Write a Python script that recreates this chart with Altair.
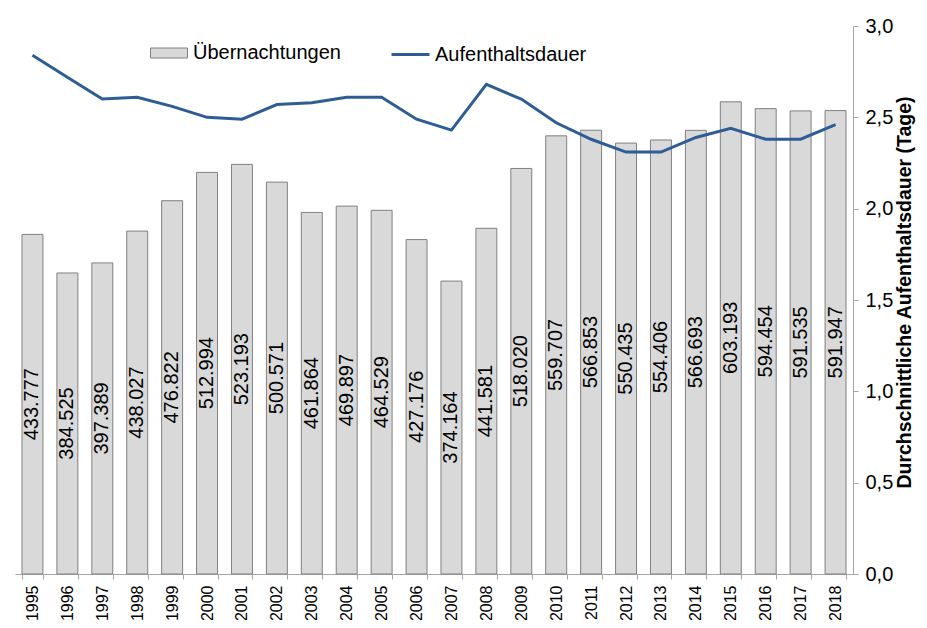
import altair as alt
import pandas as pd

jahre = ["1995", "1996", "1997", "1998", "1999", "2000", "2001", "2002", "2003",
         "2004", "2005", "2006", "2007", "2008", "2009", "2010", "2011", "2012",
         "2013", "2014", "2015", "2016", "2017", "2018"]
uebernachtungen = [433777, 384525, 397389, 438027, 476822, 512994, 523193, 500571,
                   461864, 469897, 464529, 427176, 374164, 441581, 518020, 559707,
                   566853, 550435, 554406, 566693, 603193, 594454, 591535, 591947]
aufenthaltsdauer = [2.84, 2.72, 2.60, 2.61, 2.56, 2.50, 2.49, 2.57, 2.58, 2.61, 2.61,
                    2.49, 2.43, 2.68, 2.60, 2.47, 2.38, 2.31, 2.31, 2.39, 2.44, 2.38,
                    2.38, 2.46]
links_ticks = [0, 100000, 200000, 300000, 400000, 500000, 600000, 700000]
rechts_ticks = [0.0, 0.5, 1.0, 1.5, 2.0, 2.5, 3.0]

FONT = "Liberation Sans"
GRAU = "#a6a6a6"

df = pd.DataFrame({
    "jahr": jahre,
    "naechte": uebernachtungen,
    "dauer": aufenthaltsdauer,
    "label": [f"{v:,}".replace(",", ".") for v in uebernachtungen],
    "s1": ["Übernachtungen"] * len(jahre),
    "s2": ["Aufenthaltsdauer"] * len(jahre),
})

x = alt.X("jahr:N", sort=jahre, title=None,
          scale=alt.Scale(paddingInner=0.4, paddingOuter=0.2),
          axis=alt.Axis(labelAngle=270, tickBand="extent", tickSize=5, labelPadding=6,
                        labelFontSize=16, labelFont=FONT, labelColor="black",
                        domainColor=GRAU, tickColor=GRAU))

yl_scale = alt.Scale(domain=[0, 700000], nice=False)

bars = alt.Chart(df).mark_bar(stroke="#808080", strokeWidth=1).encode(
    x=x,
    y=alt.Y("naechte:Q", scale=yl_scale, title=None,
            axis=alt.Axis(orient="left", values=links_ticks, labels=False, tickSize=5,
                          grid=False, domainColor=GRAU, tickColor=GRAU)),
    fill=alt.Fill("s1:N", scale=alt.Scale(domain=["Übernachtungen"], range=["#d9d9d9"]),
                  legend=alt.Legend(title=None, orient="none", legendX=135, legendY=8,
                                    symbolType="M-1,-0.27H1V0.27H-1Z", symbolSize=1369,
                                    symbolStrokeColor="#808080", symbolStrokeWidth=1,
                                    labelFont=FONT, labelFontSize=20, labelColor="black",
                                    labelOffset=5, padding=0)),
)

texts = alt.Chart(df).transform_calculate(half="datum.naechte / 2").mark_text(
    angle=270, align="center", baseline="middle", font=FONT, fontSize=20, color="black"
).encode(
    x=alt.X("jahr:N", sort=jahre),
    y=alt.Y("half:Q", scale=yl_scale, axis=None),
    text="label:N",
)

line = alt.Chart(df).mark_line(strokeWidth=3).encode(
    x=alt.X("jahr:N", sort=jahre),
    y=alt.Y("dauer:Q", scale=alt.Scale(domain=[0, 3], nice=False),
            title="Durchschnittliche Aufenthaltsdauer (Tage)",
            axis=alt.Axis(orient="right", values=rechts_ticks, format=".1f",
                          labelExpr="replace(datum.label, '.', ',')",
                          tickSize=5, labelPadding=7, grid=False,
                          labelFont=FONT, labelFontSize=20, labelColor="black",
                          domainColor=GRAU, tickColor=GRAU,
                          titleFont=FONT, titleFontSize=19.5, titleFontWeight="bold",
                          titleColor="black", titleAngle=270, titleBaseline="top",
                          titlePadding=3, titleY=266)),
    stroke=alt.Stroke("s2:N", scale=alt.Scale(domain=["Aufenthaltsdauer"], range=["#2e5d96"]),
                      legend=alt.Legend(title=None, orient="none", legendX=375, legendY=8,
                                        symbolType="stroke", symbolSize=1444,
                                        symbolStrokeWidth=3,
                                        labelFont=FONT, labelFontSize=20, labelColor="black",
                                        labelOffset=4, padding=0)),
)

chart = alt.layer(alt.layer(bars, texts), line).resolve_scale(
    y="independent", fill="independent", stroke="independent"
).properties(
    width=838, height=548,
    autosize=alt.AutoSizeParams(type="none"),
    padding={"left": 7, "top": 18, "right": 66, "bottom": 46},
).configure_view(stroke=None)

chart.save("out.html", embed_options={"renderer": "svg", "actions": False})
